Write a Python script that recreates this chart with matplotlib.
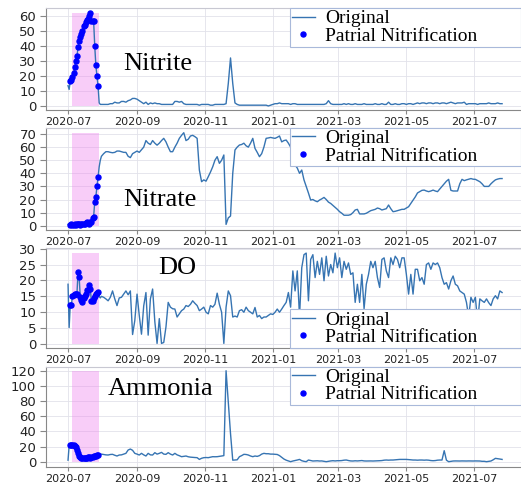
import numpy as np
import pandas as pd
import matplotlib
matplotlib.use("Agg")
import matplotlib.pyplot as plt
import matplotlib.dates as mdates

# daily samples for July 2020, then every second day
early = pd.date_range("2020-07-01", "2020-07-31", freq="D")
late = pd.date_range("2020-08-02", "2021-07-26", freq="2D")
dates = early.append(late)

nitrite_early = [13.5, 11, 16.5, 17.5, 19, 22, 26, 30, 33, 39, 43, 46, 48, 50, 53, 54,
                 56, 57, 58, 60, 62, 56.5, 56.5, 56.5, 40, 27, 20, 13, 2, 1, 1]
nitrite_late = [1, 1, 1, 1.5, 1.5, 2.5, 2, 2, 3, 3, 2.5, 3.5, 4, 5, 5,
                4.5, 3.5, 2.5, 1.5, 2.5, 1, 2, 1.5, 2, 1.5, 1.5, 1, 1, 1, 1,
                1, 1, 3, 3, 2.5, 3, 1.5, 1, 1, 1, 1, 1, 1, 0.5, 1,
                1, 1, 1, 0.5, 0.5, 1, 1, 1, 1, 1, 1.5, 15, 32, 15, 2,
                1, 0.5, 0.5, 0.5, 0.5, 0.5, 0.5, 0.5, 0.5, 0.5, 0.5, 0.5, 0.5, 0.5, 0,
                0.5, 1, 1.5, 1.5, 2, 1.5, 1.5, 1.5, 1.5, 1, 1.5, 1.5, 1, 1, 1,
                1, 1, 1, 1, 1, 1, 1, 1, 1, 1, 1.5, 3.5, 1.5, 1, 1,
                1, 1, 1, 1.5, 1, 1.5, 1, 1, 1.5, 1, 1, 1, 1.5, 1, 1,
                1, 1, 1.5, 1, 1, 1.5, 1, 1, 2.5, 1, 1, 1.5, 1, 1, 1.5,
                1.5, 1, 1.5, 1.5, 1, 1.5, 2, 1.5, 2, 2, 1.5, 2, 2, 1.5, 2,
                2, 1.5, 2, 2, 1.5, 2, 2.5, 2, 1.5, 2, 2, 2, 2.5, 1, 1.5,
                1.5, 1.5, 1.5, 1, 1.5, 1.5, 1.5, 1.5, 2, 1.5, 1.5, 1.5, 2, 1.5, 1.5]

nitrate_early = [1, 1, 0.8, 1, 0.5, 0.5, 1, 0.8, 1, 1.5, 1, 0.8, 1, 1.5, 1, 1.5,
                 2, 2.5, 2, 1.5, 2.5, 3, 6, 7, 18, 22, 30, 37, 45, 50, 53]
nitrate_late = [55, 56.5, 56.5, 56, 55.7, 56, 57, 57, 56.5, 56, 56, 53, 52, 55, 56,
                57, 56, 58, 60, 65, 63, 62, 65, 63, 61.5, 63, 65, 66.7, 64, 60,
                56.5, 56.5, 60, 63, 66.7, 69, 71, 65, 66, 68.5, 69, 68, 66.7, 42.5, 33.6,
                35, 34, 37.4, 41, 45, 50, 52.7, 47.6, 50, 54, 1, 6, 7.4, 40, 57.8,
                60, 61.6, 62, 63, 61, 60, 63, 66.7, 59, 56, 52.7, 55, 60, 66.7, 67,
                67.4, 67, 66.7, 67.5, 68.5, 64, 65, 65.4, 63, 60, 56.5, 46.3, 44, 40, 42.5,
                35, 30, 25, 19.6, 20, 19, 18.3, 19.6, 20.5, 21.6, 20, 18, 17, 15.5, 14,
                12.5, 10.7, 9.5, 8, 8, 8, 8.5, 10, 12, 12.5, 9, 9, 9, 9.5, 10.5,
                11.5, 12, 12.5, 13.5, 13, 12, 12.5, 13, 15.8, 13, 10.7, 11, 11.5, 12, 12.5,
                12.5, 13.5, 14.5, 17, 19.6, 22, 25, 26, 27, 27.2, 26.5, 26, 26.5, 27.2, 26.5,
                26, 28, 30, 32, 34, 35.4, 27, 26.5, 26.5, 26.5, 32, 35.4, 34.4, 35, 35.5,
                36, 35.5, 35.4, 34.5, 33.6, 32, 30, 30, 30, 32, 33.6, 35, 35.6, 36, 36]

do_early = [18.8, 5.2, 12.3, 12.3, 15.2, 15.5, 15.7, 15.7, 15.7, 22.7, 21, 14.7, 13.9, 13.3, 14.5, 15.2,
            15.7, 17, 17, 18.5, 17.3, 13.6, 13.5, 14.5, 15, 15.7, 16.2, 16.4, 15, 14.5, 15]
do_late = [14.7, 14.2, 13.6, 14.7, 16.7, 14.2, 12.1, 14.5, 14.7, 15.7, 16.7, 15.5, 16.7, 3, 7.4,
           15.7, 9, 3.1, 12, 16.2, 2.8, 14.2, 17.3, 7, 0.2, 8, 0.2, 0.5, 5.4, 13.1,
           11.6, 11.1, 11, 8.5, 9.5, 10.5, 11, 12.1, 11.8, 12.5, 13.6, 12.8, 12.1, 10.5, 11,
           11.6, 10, 9.5, 12.1, 11.6, 12.5, 16, 12.5, 10, 0.2, 11.6, 16.7, 15.2, 8.5, 8.8,
           8.5, 10.5, 10.8, 10, 11.6, 10.5, 10, 9.5, 11.5, 8.5, 9, 8, 8.5, 8.5, 9,
           9.5, 9.3, 10, 11, 10, 11, 12.1, 13.1, 16.2, 11.6, 23, 16.7, 23, 8.5, 24,
           28.1, 28.6, 13.6, 26.6, 28.1, 20.9, 26, 21.9, 27.1, 19.9, 27.6, 21.4, 25, 22.4, 28.6,
           24, 27.1, 20.9, 26, 23.5, 25.5, 21.9, 22.4, 13.1, 18.8, 13.1, 21.9, 11.1, 18.8, 21.9,
           26, 24, 26, 20.9, 17.8, 26.6, 27.1, 23, 20.9, 27.1, 25, 27.6, 26.6, 24, 27.1,
           27.1, 21.9, 15.7, 21.9, 15.7, 23.5, 23.5, 19.9, 20.9, 18.8, 25, 25.5, 23.5, 25.5, 25,
           25.5, 24, 20.9, 18.8, 19.3, 17.3, 19.9, 21.4, 18.8, 18.3, 16.7, 16.2, 15.7, 13.1, 8.5,
           14.7, 13.1, 14.7, 6.9, 14.2, 13.6, 13.1, 14.2, 13, 12.1, 14.2, 15.2, 14.2, 16.7, 16.2]

ammonia_early = [2, 21, 22, 22.5, 22, 22, 21, 19, 15.4, 12, 8, 6, 5.3, 5, 5.5, 5.3,
                 5, 5.5, 6.5, 6, 5.5, 6.5, 6, 7, 7.5, 7.5, 8.5, 9, 9.7, 9.5, 10]
ammonia_late = [9.5, 9, 8.8, 9.5, 9.7, 8.5, 7.5, 8.8, 9, 10, 11, 15.4, 16.7, 15, 11,
                10, 8.8, 11, 9, 7.5, 11, 9, 8.8, 11.9, 10, 11, 12.3, 10, 9.7, 11.9,
                10, 8.8, 11, 9, 7.9, 6.6, 7, 7.5, 6.5, 6, 5.7, 5.5, 5.3, 3, 4.5,
                5.3, 5.5, 5.3, 6, 6.6, 6.5, 6.6, 7, 7.5, 8, 120, 78.6, 37, 2, 2.2,
                2.5, 6.6, 8, 9.7, 9.5, 8.8, 7.5, 6.6, 7.5, 7, 8, 10, 11, 10.5, 10.5,
                10, 10, 9.7, 9.5, 8, 5.7, 3.5, 2, 1, 0, 0.9, 1.5, 2.2, 3, 1.3,
                0.5, 0, 2.2, 1.5, 0.9, 1, 1.2, 0.9, 1, 0.5, 0, 0.5, 1, 1.3, 1,
                1.3, 1.3, 1.5, 2, 2.2, 1.5, 1, 0.9, 1.2, 1, 1.3, 1.5, 1, 0.9, 1,
                1, 0.9, 1, 1.2, 1.3, 1.5, 2, 2.2, 2, 2.2, 2.2, 2.5, 2.8, 3, 3,
                3, 3, 2.8, 2.5, 2.2, 2.2, 2, 2.2, 2.2, 2, 2.2, 2, 1.5, 1.3, 1.5,
                2, 2.2, 2.2, 14.5, 2, 0, 0.5, 0.9, 1, 0.9, 0.9, 1, 0.9, 0.9, 1,
                0.9, 0.9, 1, 0.9, 0.9, 0.5, 0.5, 0, 0.5, 0.9, 2.5, 4.4, 4, 3.5, 3]

names = ["Nitrite", "Nitrate", "DO", "Ammonia"]
series = [nitrite_early + nitrite_late, nitrate_early + nitrate_late,
          do_early + do_late, ammonia_early + ammonia_late]

# partial nitrification period
pn_mask = (dates >= "2020-07-03") & (dates <= "2020-07-28")
shade_start, shade_end = pd.Timestamp("2020-07-04 12:00"), pd.Timestamp("2020-07-28 14:00")

# layout (figure fractions), y limits, ticks, title spot, legend corner
rects = [(0.0883, 0.7723, 0.9117, 0.2105),
         (0.0883, 0.5232, 0.9117, 0.2118),
         (0.0883, 0.2801, 0.9117, 0.2058),
         (0.0883, 0.0325, 0.9117, 0.2083)]
ylims = [(-2.7, 65.1), (-3.5, 74.6), (-1.15, 30.1), (-7.4, 125.3)]
yticks = [np.arange(0, 61, 10), np.arange(0, 71, 10), np.arange(0, 31, 5), np.arange(0, 121, 20)]
title_pos = [(0.236, 0.45), (0.24, 0.30), (0.276, 0.80), (0.242, 0.78)]
leg_loc = ["upper right", "upper right", "lower right", "upper right"]

line_c = "#3674b2"
fig = plt.figure(figsize=(5.21, 4.83), dpi=100)

for i in range(4):
    ax = fig.add_axes(rects[i])
    vals = np.array(series[i], dtype=float)

    ax.fill_between([shade_start, shade_end], 0, vals.max(), color="violet",
                    alpha=0.4, lw=0, zorder=1)
    ax.plot(dates, vals, color=line_c, lw=1.0, label="Original", zorder=2)
    ax.plot(dates[pn_mask], vals[pn_mask], "o", color="blue", ms=3.6,
            label="Patrial Nitrification", zorder=3)

    ax.set_xlim(pd.Timestamp("2020-06-11 05:00"), pd.Timestamp("2021-08-12"))
    ax.set_ylim(ylims[i])
    ax.set_yticks(yticks[i])
    ax.xaxis.set_major_locator(mdates.MonthLocator(bymonth=[1, 3, 5, 7, 9, 11]))
    ax.xaxis.set_major_formatter(mdates.DateFormatter("%Y-%m"))
    ax.tick_params(axis="y", labelsize=9.5, length=4, color="#888888", pad=3,
                   labelcolor="#222222")
    ax.tick_params(axis="x", labelsize=8, length=3, color="#888888", pad=2,
                   labelcolor="#222222")
    ax.grid(True, color="#e2e2ea", lw=0.6)
    ax.set_axisbelow(True)
    for s in ["left", "bottom"]:
        ax.spines[s].set_color("#888888")
    ax.spines["top"].set_color("#c8c8d2")
    ax.spines["right"].set_visible(False)

    ax.text(title_pos[i][0], title_pos[i][1], names[i], transform=ax.transAxes,
            family="Liberation Serif", fontsize=19, ha="center", va="center")

    x0 = 0.514
    leg = ax.legend(loc=leg_loc[i], bbox_to_anchor=(x0, 0, 1 - x0, 1), mode="expand",
                    borderaxespad=0, prop={"family": "Liberation Serif", "size": 14},
                    fancybox=False, edgecolor="#a9b9da", framealpha=1,
                    handlelength=1.2, handletextpad=0.5, labelspacing=0.0,
                    borderpad=0.08)
    leg.get_frame().set_linewidth(0.8)

fig.savefig("out.png", dpi=100)
